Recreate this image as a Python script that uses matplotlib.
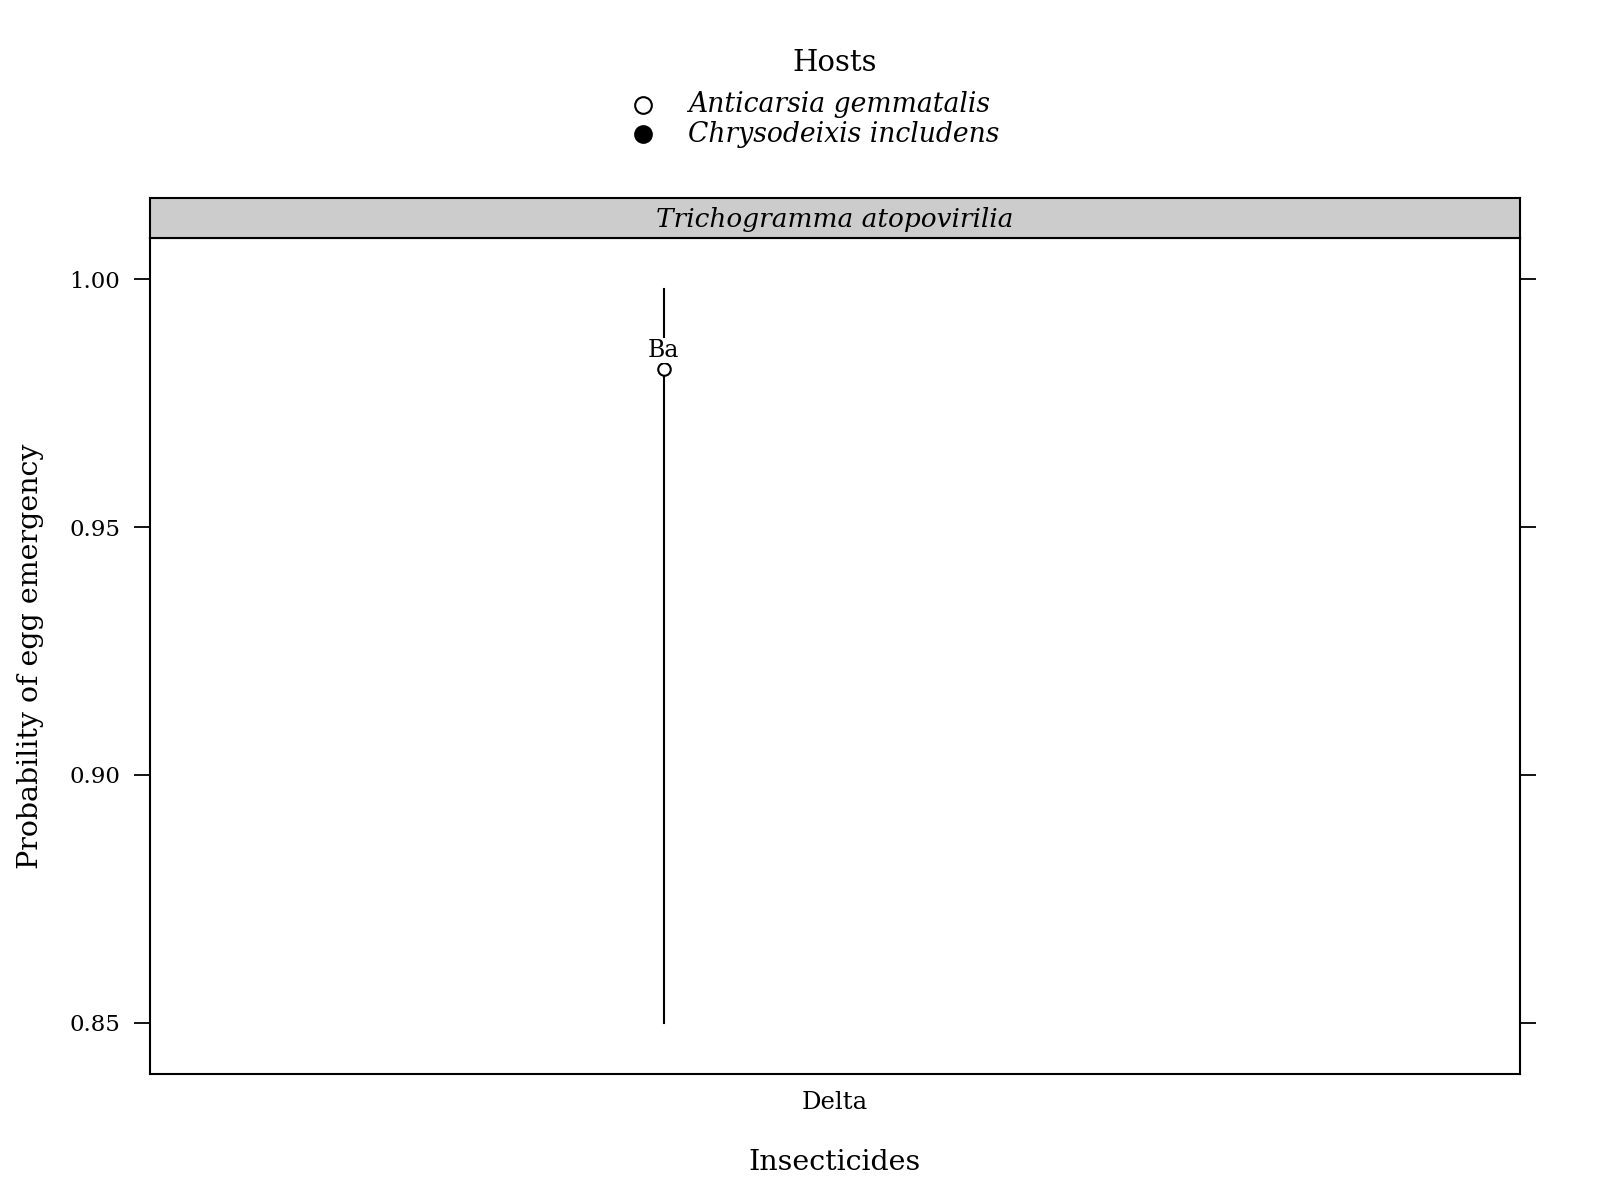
import matplotlib
matplotlib.use("Agg")
import matplotlib.pyplot as plt

# ---- data ----
insecticides = ["Delta"]
hosts = ["Anticarsia gemmatalis", "Chrysodeixis includens"]
parasitoid = "Trichogramma atopovirilia"
host_of_point = ["Anticarsia gemmatalis"]
insecticide_of_point = ["Delta"]
prob = [0.982]
lower = [0.850]
upper = [0.998]
letters = ["Ba"]
yticks = [0.85, 0.90, 0.95, 1.00]
ytick_labels = ["0.85", "0.90", "0.95", "1.00"]

W, H = 1600, 1200
plt.rcParams['font.family'] = ['DejaVu Serif']

fig = plt.figure(figsize=(W / 100, H / 100), dpi=100)

def fx(px):
    return px / W

def fy(py):
    return 1 - py / H

# panel
left, right, top, bottom = 150, 1520, 238, 1074
ax = fig.add_axes([fx(left), fy(bottom), fx(right - left), (bottom - top) / H])
strip = fig.add_axes([fx(left), fy(top), fx(right - left), 40 / H])

offsets = {hosts[0]: -0.15, hosts[1]: 0.15}
fills = {hosts[0]: 'white', hosts[1]: 'black'}

for h, ins, p, lo, up, lab in zip(host_of_point, insecticide_of_point, prob, lower, upper, letters):
    x = insecticides.index(ins) + 1 + offsets[h]
    ax.plot([x, x], [lo, up], color='black', lw=1.5, zorder=1)
    ax.plot([x], [p], 'o', ms=9, mfc=fills[h], mec='black', mew=1.5, zorder=3)
    ax.annotate(lab, (x, p), xytext=(0, 13), textcoords='offset points',
                ha='center', va='center', fontsize=17, zorder=4,
                bbox=dict(boxstyle='square,pad=0.05', fc='white', ec='none'))

rng = max(upper) - min(lower)
ax.set_ylim(min(lower) - 0.07 * rng, max(upper) + 0.07 * rng)
ax.set_xlim(0.4, len(insecticides) + 0.6)
ax.set_xticks(range(1, len(insecticides) + 1))
ax.set_xticklabels(insecticides, fontsize=17.5)
ax.tick_params(axis='x', length=0, pad=12)
ax.set_yticks(yticks)
ax.set_yticklabels(ytick_labels, fontsize=16.5)
ax.tick_params(axis='y', direction='out', length=11.5, width=1.3, pad=10,
               left=True, right=True, labelleft=True, labelright=False)
for s in ax.spines.values():
    s.set_linewidth(1.5)

strip.set_facecolor('#cccccc')
strip.set_xticks([])
strip.set_yticks([])
for s in strip.spines.values():
    s.set_linewidth(1.5)
strip.text(0.5, 0.45, parasitoid, transform=strip.transAxes, ha='center', va='center',
           fontsize=19, style='italic')

# axis labels
fig.text(fx(835), fy(1162), "Insecticides", ha='center', va='center', fontsize=20.5)
fig.text(fx(31), fy(656), "Probability of egg emergency", ha='center', va='center',
         rotation=90, fontsize=20.5)

# legend
fig.text(fx(835), fy(63), "Hosts", ha='center', va='center', fontsize=21)
for i, h in enumerate(hosts):
    yy = fy(105 + 29 * i)
    fig.lines.append(plt.Line2D([fx(643)], [yy], marker='o', ms=12, mfc=fills[h],
                                mec='black', mew=1.5, transform=fig.transFigure))
    fig.text(fx(688), yy, h, ha='left', va='center', fontsize=19.2, style='italic')

fig.savefig("out.png", dpi=100)
